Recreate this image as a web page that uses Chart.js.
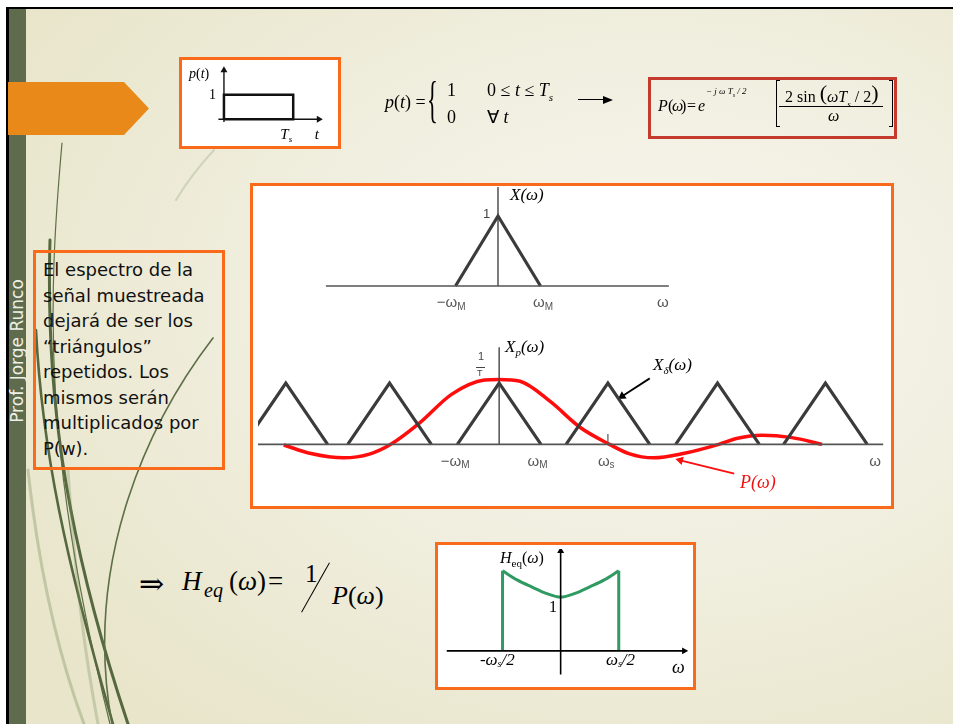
<!DOCTYPE html>
<html>
<head>
<meta charset="utf-8">
<script src="https://cdn.jsdelivr.net/npm/chart.js@4.4.0/dist/chart.umd.min.js"></script>
<style>
  body { margin: 0; width: 953px; height: 724px; position: relative; overflow: hidden; background: #fff; }
  #slide { position: absolute; left: 6px; top: 7px; width: 947px; height: 717px; box-sizing: border-box;
           border-top: 2px solid #000; border-left: 3px solid #000;
           background: radial-gradient(ellipse 80% 75% at 68% 42%, #f8f7f0 0%, #f1efe0 45%, #e8e5ca 100%); }
  .abs { position: absolute; }
  .box { position: absolute; box-sizing: border-box; border: 3px solid #f96b1a; background: #fff; }
  .t { position: absolute; white-space: nowrap; line-height: 1; font-family: "Liberation Serif", serif; color: #000; }
  .i { font-style: italic; }
  .s { font-family: "Liberation Sans", sans-serif; }
</style>
</head>
<body>
<div id="slide"></div>

<!-- hierba decorativa -->
<svg class="abs" style="left:0;top:0" width="953" height="724">
  <g fill="none" stroke-linecap="round">
    <path d="M 62 143 C 48 300, 42 450, 110 724" stroke="#5d6f46" stroke-width="1.2"/>
    <path d="M 50 240 C 46 380, 60 520, 128 724" stroke="#56683f" stroke-width="3"/>
    <path d="M 36 330 C 42 450, 66 560, 113 724" stroke="#56683f" stroke-width="2.6"/>
    <path d="M 213 338 C 150 420, 82 560, 112 724" stroke="#5d6f46" stroke-width="1.6"/>
    <path d="M 28 470 C 40 580, 60 660, 84 724" stroke="rgba(120,140,90,0.35)" stroke-width="3"/>
    <path d="M 68 470 C 76 590, 86 660, 98 724" stroke="rgba(120,140,90,0.3)" stroke-width="3"/>
    <path d="M 214 150 C 200 165, 188 180, 176 200" stroke="rgba(120,140,90,0.25)" stroke-width="2"/>
  </g>
</svg>

<div class="abs" style="left:9px;top:9px;width:17px;height:715px;background:#5e6c4d"></div>
<div class="t" style="left:-68px;top:341px;width:170px;height:20px;line-height:20px;text-align:center;font-family:'DejaVu Sans',sans-serif;font-size:17px;color:#eef0e6;transform:rotate(-90deg)">Prof. Jorge Runco</div>

<div class="abs" style="left:8px;top:82px;width:141px;height:53px;background:#e8891a;clip-path:polygon(0 0,116px 0,100% 50%,116px 100%,0 100%)"></div>

<!-- cajas -->
<div class="box" style="left:179px;top:57px;width:162px;height:92px"></div>
<div class="box" style="left:250px;top:183px;width:644px;height:326px"></div>
<div class="box" style="left:435px;top:542px;width:261px;height:148px"></div>
<div class="box" style="left:33px;top:250px;width:192px;height:220px;background:transparent;padding:4px 0 0 7px;font-family:'DejaVu Sans',sans-serif;font-size:18px;line-height:25.5px;color:#111">El espectro de la<br>señal muestreada<br>dejará de ser los<br>“triángulos”<br>repetidos. Los<br>mismos serán<br>multiplicados por<br>P(w).</div>

<canvas id="cP" class="abs" style="left:182px;top:60px" width="156" height="86"></canvas>
<canvas id="cX" class="abs" style="left:253px;top:186px" width="637" height="140"></canvas>
<canvas id="cXp" class="abs" style="left:253px;top:330px" width="637" height="175"></canvas>
<canvas id="cH" class="abs" style="left:438px;top:545px" width="254" height="141"></canvas>

<!-- textos de p(t) -->
<div class="t" style="left:189px;top:67px;font-size:14px"><span class="i">p</span>(<span class="i">t</span>)</div>
<div class="t" style="left:209px;top:88px;font-size:14px">1</div>

<!-- p(t) = {...} -->
<div class="t" style="left:385px;top:93px;font-size:18px"><span class="i">p</span>(<span class="i">t</span>) =</div>
<div class="t" style="left:427px;top:74px;font-size:50px;transform:scaleX(0.45);transform-origin:left">{</div>
<div class="t" style="left:447px;top:81px;font-size:18px">1</div>
<div class="t" style="left:487px;top:81px;font-size:18px">0 ≤ <span class="i">t</span> ≤ <span class="i">T</span><sub class="i" style="font-size:11px">s</sub></div>
<div class="t" style="left:447px;top:108px;font-size:18px">0</div>
<div class="t" style="left:487px;top:108px;font-size:18px">∀ <span class="i">t</span></div>

<div class="abs" style="left:578px;top:99px;width:28px;height:0;border-top:1.6px solid #000"></div>
<div class="abs" style="left:603px;top:96px;width:0;height:0;border-left:10px solid #000;border-top:4px solid transparent;border-bottom:4px solid transparent"></div>

<!-- P(ω) -->
<div class="abs" style="left:648px;top:77px;width:249px;height:62px;box-sizing:border-box;border:3px solid #c43a2c"></div>
<div class="t i" style="left:658px;top:98px;font-size:16px">P</div>
<div class="t" style="left:668px;top:98px;font-size:16px">(</div>
<div class="t i" style="left:672px;top:98px;font-size:16px">ω</div>
<div class="t" style="left:681px;top:98px;font-size:16px">)</div>
<div class="t" style="left:687px;top:98px;font-size:16px">=</div>
<div class="t i" style="left:698px;top:98px;font-size:16px">e</div>
<div class="t i" style="left:706px;top:87px;font-size:9px">− j ω T<span style="font-size:6px;position:relative;top:3px">s</span> / 2</div>
<div class="abs" style="left:776px;top:80px;width:4px;height:47px;box-sizing:border-box;border:1px solid #000;border-right:none"></div>
<div class="abs" style="left:889px;top:80px;width:4px;height:47px;box-sizing:border-box;border:1px solid #000;border-left:none"></div>
<div class="t" style="left:785px;top:84px;font-size:16px">2 sin <span style="font-size:22px;position:relative;top:-2px">(</span><span class="i">ω</span><span class="i">T</span><span class="i" style="font-size:9px;position:relative;top:5px">s</span> / 2<span style="font-size:22px;position:relative;top:-2px">)</span></div>
<div class="abs" style="left:779px;top:106px;width:104px;height:0;border-top:1px solid #000"></div>
<div class="t i" style="left:828px;top:108px;font-size:16px">ω</div>

<!-- etiquetas X(ω), Xp(ω) -->
<div class="t i" style="left:510px;top:186px;font-size:17px">X(ω)</div>
<div class="t s" style="left:483px;top:207px;font-size:13px;color:#444">1</div>
<div class="t i" style="left:505px;top:338px;font-size:17px">X<span style="font-size:11px;position:relative;top:4px">p</span>(ω)</div>
<div class="t s" style="left:478px;top:351px;font-size:11px;color:#444">1</div>
<div class="abs" style="left:476px;top:367px;width:9px;height:0;border-top:1px solid #444"></div>
<div class="t s" style="left:477px;top:369px;font-size:9px;color:#444">T</div>
<div class="t i" style="left:653px;top:356px;font-size:17px">X<span style="font-size:11px;position:relative;top:4px">δ</span>(ω)</div>
<div class="t i" style="left:740px;top:473px;font-size:18px;color:#f01010">P(ω)</div>

<!-- H_eq -->
<div class="t" style="left:139px;top:569px;font-size:30px;font-family:'DejaVu Serif',serif">⇒</div>
<div class="t i" style="left:182px;top:568px;font-size:27px">H</div>
<div class="t i" style="left:204px;top:580px;font-size:20px">eq</div>
<div class="t" style="left:229px;top:568px;font-size:27px">(<span class="i">ω</span>)</div>
<div class="t" style="left:268px;top:568px;font-size:27px">=</div>
<div class="t" style="left:305px;top:561px;font-size:25px">1</div>
<div class="abs" style="left:287px;top:587px;width:57px;height:0;border-top:1.3px solid #000;transform:rotate(-60.7deg)"></div>
<div class="t" style="left:332px;top:583px;font-size:26px"><span class="i">P</span>(<span class="i">ω</span>)</div>

<div class="t" style="left:500px;top:550px;font-size:16px"><span class="i">H</span><span style="font-size:11px;position:relative;top:4px">eq</span>(<span class="i">ω</span>)</div>
<div class="t" style="left:549px;top:599px;font-size:16px">1</div>
<div class="t i" style="left:672px;top:658px;font-size:18px">ω</div>

<script>
// p(t): pulso rectangular, t en unidades de Ts
const pulseT = [0, 0, 1, 1, 0];
const pulseV = [0, 1, 1, 0, 0];
const pAxisT = [-0.08, 1.37];
const pAxisV = [-0.11, 2.0];
const pTickValues = [0.9, 1.34];
const pTickLabels = [['T', 's'], ['t']];

// X(ω), ω en unidades de ωM
const xwOmega = [-1, 0, 1];
const xwValue = [0, 1, 0];
const xwAxisOmega = [-4.05, 4.02];
const xwAxisTop = 1.414;
const xwTickValues = [-1.1, 1.06, 3.88];
const xwTickLabels = [['\u2212ω', 'M'], ['ω', 'M'], ['ω']];

// Xp(ω): triángulos repetidos cada ωs
const xpOmega = [-6.1, -5.1, -4.1, null, -3.62, -2.62, -1.62, null, -1, 0, 1, null,
                 1.6, 2.6, 3.6, null, 4.22, 5.22, 6.22, null, 6.8, 7.8, 8.8];
const xpValue = [0, 1, 0, null, 0, 1, 0, null, 0, 1, 0, null,
                 0, 1, 0, null, 0, 1, 0, null, 0, 1, 0];
const xpAxisOmega = [-5.8, 9.18];
const xpAxisTop = 1.585;
const wsTick = [2.6, 0.17];
const xpTickValues = [-1.05, 0.92, 2.56, 8.99];
const xpTickLabels = [['\u2212ω', 'M'], ['ω', 'M'], ['ω', 's'], ['ω']];

// P(ω) dibujada en rojo
const pwOmega = [-5.15, -4.5, -3.72, -3.1, -2.59, -1.9, -1.13, -0.35, 0, 0.5, 1.22, 1.93,
                 2.64, 3.1, 3.69, 4.4, 5.25, 5.7, 6.28, 7.0, 7.72];
const pwValue = [-0.01, -0.15, -0.22, -0.16, 0, 0.35, 0.82, 1.05, 1.06, 1.03, 0.7, 0.28,
                 0, -0.15, -0.22, -0.15, 0, 0.1, 0.15, 0.11, 0.0];

// flechas de las etiquetas
const xdArrowOmega = [3.6, 2.94];
const xdArrowValue = [1.077, 0.785];
const pwArrowOmega = [5.62, 4.33];
const pwArrowValue = [-0.477, -0.26];

// Heq(ω), ω en unidades de ωs/2
const heqOmega = [-1, -0.75, -0.5, -0.25, 0, 0.25, 0.5, 0.75, 1];
const heqValue = [1.49, 1.32, 1.19, 1.07, 1.0, 1.07, 1.19, 1.32, 1.49];
const heqEdgeOmega = [-1, -1, null, 1, 1];
const heqEdgeValue = [0, 1.49, null, 1.49, 0];
const heqAxisOmega = [-1.96, 2.125];
const heqAxisValue = [-0.44, 1.86];
const heqTickValues = [-1.09, 1.03];
const heqTickLabels = [['-ω', 's', '/2'], ['ω', 's', '/2']];

function pts(xs, ys) {
  return xs.map((x, i) => ({ x: x, y: ys[i] }));
}

function line(data, color, width, extra) {
  return Object.assign({
    data: data, showLine: true, borderColor: color, borderWidth: width,
    pointRadius: 0, tension: 0, borderJoinStyle: 'miter'
  }, extra || {});
}

function arrowLine(data, color, width, rot, r) {
  return line(data, color, width, {
    pointRadius: [0, r], pointStyle: 'triangle', pointRotation: rot,
    pointBackgroundColor: color, pointBorderWidth: 0
  });
}

// etiquetas del eje x, dibujadas bajo la recta y = 0
function tickText(cfg) {
  return {
    id: 'tickText',
    afterDatasetsDraw(chart) {
      const ctx = chart.ctx;
      const xs = chart.scales.x, ys = chart.scales.y;
      const y0 = ys.getPixelForValue(0) + cfg.offset;
      ctx.save();
      ctx.fillStyle = cfg.color;
      ctx.textBaseline = 'middle';
      cfg.values.forEach((v, i) => {
        const parts = cfg.labels[i];
        let w = 0;
        parts.forEach((p, k) => { ctx.font = k % 2 ? cfg.subFont : cfg.font; w += ctx.measureText(p).width; });
        let x = xs.getPixelForValue(v) - w / 2;
        parts.forEach((p, k) => {
          ctx.font = k % 2 ? cfg.subFont : cfg.font;
          ctx.fillText(p, x, k % 2 ? y0 + cfg.subShift : y0);
          x += ctx.measureText(p).width;
        });
      });
      ctx.restore();
    }
  };
}

function makeChart(id, xmin, xmax, ymin, ymax, datasets, ticks) {
  return new Chart(document.getElementById(id), {
    type: 'scatter',
    data: { datasets: datasets },
    options: {
      responsive: false,
      animation: false,
      events: [],
      layout: { padding: 0 },
      plugins: { legend: { display: false }, tooltip: { enabled: false } },
      scales: {
        x: { type: 'linear', display: false, min: xmin, max: xmax },
        y: { type: 'linear', display: false, min: ymin, max: ymax }
      }
    },
    plugins: [tickText(ticks)]
  });
}

// p(t)
makeChart('cP', -0.548, 1.589, -0.926, 2.259, [
  line(pts(pulseT, pulseV), '#111', 2.5),
  arrowLine(pts(pAxisT, [0, 0]), '#111', 1.4, 90, 4),
  arrowLine(pts([0, 0], pAxisV), '#111', 1.4, 0, 4)
], {
  values: pTickValues, labels: pTickLabels, offset: 16, subShift: 4, color: '#000',
  font: 'italic 15px "Liberation Serif"', subFont: 'italic 9px "Liberation Serif"'
});

// X(ω)
makeChart('cX', -5.765, 9.224, -0.571, 1.4286, [
  line(pts(xwAxisOmega, [0, 0]), '#555', 1.6),
  line(pts([0, 0], [0, xwAxisTop]), '#444', 1.4),
  line(pts(xwOmega, xwValue), '#3b3b3b', 3.2)
], {
  values: xwTickValues, labels: xwTickLabels, offset: 17, subShift: 4, color: '#555',
  font: '15px "Liberation Sans"', subFont: '10px "Liberation Sans"'
});

// Xp(ω) y P(ω)
makeChart('cXp', -5.765, 9.224, -0.908, 1.785, [
  line(pts(xpAxisOmega, [0, 0]), '#555', 1.6),
  line(pts([0, 0], [0, xpAxisTop]), '#444', 1.4),
  line(pts([wsTick[0], wsTick[0]], [0, wsTick[1]]), '#555', 1.2),
  line(pts(xpOmega, xpValue), '#3b3b3b', 3.2, { spanGaps: false }),
  line(pts(pwOmega, pwValue), '#ff0d0d', 3.5, { cubicInterpolationMode: 'monotone' }),
  arrowLine(pts(xdArrowOmega, xdArrowValue), '#000', 1.8, 236, 5),
  arrowLine(pts(pwArrowOmega, pwArrowValue), '#ff0d0d', 1.8, 284, 5)
], {
  values: xpTickValues, labels: xpTickLabels, offset: 17, subShift: 4, color: '#555',
  font: '15px "Liberation Sans"', subFont: '10px "Liberation Sans"'
});

// Heq(ω)
makeChart('cH', -2.042, 2.192, -0.579, 1.895, [
  arrowLine(pts(heqAxisOmega, [0, 0]), '#000', 1.6, 90, 4),
  arrowLine(pts([0, 0], heqAxisValue), '#000', 1.6, 0, 4),
  line(pts(heqEdgeOmega, heqEdgeValue), '#2f9a62', 3, { spanGaps: false }),
  line(pts(heqOmega, heqValue), '#2f9a62', 3, { cubicInterpolationMode: 'monotone' })
], {
  values: heqTickValues, labels: heqTickLabels, offset: 10, subShift: 4, color: '#000',
  font: 'italic 17px "Liberation Serif"', subFont: 'italic 10px "Liberation Serif"'
});
</script>
</body>
</html>
